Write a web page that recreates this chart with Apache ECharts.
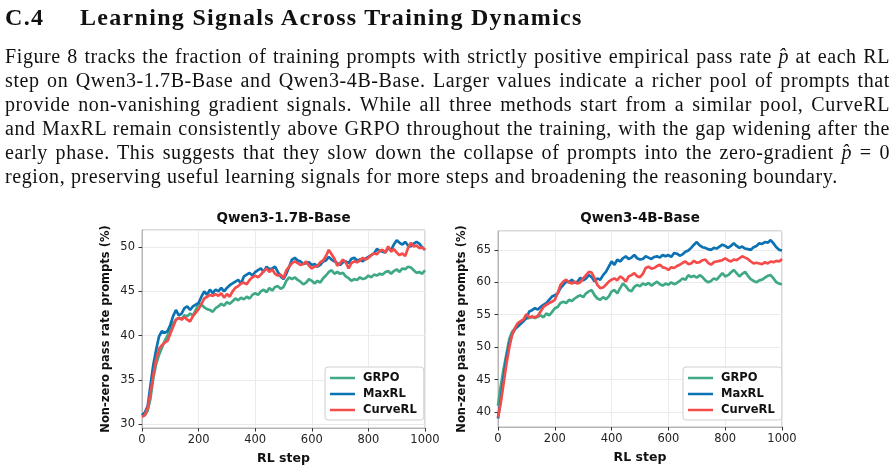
<!DOCTYPE html>
<html>
<head>
<meta charset="utf-8">
<script src="https://cdn.jsdelivr.net/npm/echarts@6/dist/echarts.min.js"></script>
<style>
  body { margin: 0; width: 896px; height: 473px; background: #fff; position: relative; overflow: hidden; color: #111; font-family: 'Liberation Serif', serif; }
  #chart { position: absolute; left: 0; top: 0; width: 896px; height: 473px; }
  .h { position: absolute; top: 2px; font-weight: bold; font-size: 24px; line-height: 30px; letter-spacing: 1.3px; white-space: nowrap; }
  .ln { position: absolute; left: 5px; width: 885px; font-size: 20px; letter-spacing: 0.6px; line-height: 24px; text-align: justify; text-align-last: justify; white-space: nowrap; }
  .last { text-align-last: left; }
</style>
</head>
<body>
<div id="chart"></div>
<div class="h" style="left:5px">C.4</div>
<div class="h" style="left:80px">Learning Signals Across Training Dynamics</div>
<div class="ln" style="top:44px">Figure 8 tracks the fraction of training prompts with strictly positive empirical pass rate <i>p&#770;</i> at each RL</div>
<div class="ln" style="top:68px">step on Qwen3-1.7B-Base and Qwen3-4B-Base. Larger values indicate a richer pool of prompts that</div>
<div class="ln" style="top:92px">provide non-vanishing gradient signals. While all three methods start from a similar pool, CurveRL</div>
<div class="ln" style="top:116px">and MaxRL remain consistently above GRPO throughout the training, with the gap widening after the</div>
<div class="ln" style="top:140px">early phase. This suggests that they slow down the collapse of prompts into the zero-gradient <i>p&#770;</i> = 0</div>
<div class="ln last" style="top:164px">region, preserving useful learning signals for more steps and broadening the reasoning boundary.</div>
<script>
// RL steps, every 10
const steps = [];
for (let s = 0; s <= 1000; s += 10) steps.push(s);

const names = ['GRPO', 'MaxRL', 'CurveRL'];
const colors = ['#3fa985', '#0b72b4', '#f44b4b'];
const titles = ['Qwen3-1.7B-Base', 'Qwen3-4B-Base'];

// Qwen3-1.7B-Base
const grpo17 = [
  31.0, 31.0, 31.5, 32.9, 35.2, 36.8, 37.8, 38.6, 39.4, 40.0,
  40.9, 41.4, 41.8, 42.0, 41.9, 42.3, 42.2, 42.5, 42.3, 42.9,
  43.6, 43.5, 43.2, 43.0, 42.9, 42.7, 43.1, 43.3, 43.6, 43.4,
  43.8, 43.6, 43.9, 44.2, 44.0, 44.3, 44.1, 44.4, 44.2, 44.6,
  44.8, 44.6, 45.0, 45.2, 44.9, 45.4, 45.1, 45.5, 45.6, 45.3,
  45.5, 46.2, 46.6, 46.4, 46.6, 46.3, 46.1, 45.8, 46.0, 46.4,
  46.2, 45.9, 46.2, 46.0, 46.5, 46.8, 47.2, 47.4, 47.0, 47.2,
  47.0, 47.1, 46.7, 46.5, 46.2, 46.4, 46.3, 46.6, 46.4, 46.5,
  46.8, 46.6, 46.9, 46.8, 47.0, 46.9, 47.2, 47.3, 47.0, 47.3,
  47.5, 47.2, 47.6, 47.5, 47.8, 47.7, 47.4, 47.1, 47.2, 47.0,
  47.4
];
const maxrl17 = [
  31.0, 31.3, 32.0, 34.4, 36.7, 38.4, 39.9, 40.5, 40.3, 40.5,
  41.2, 42.2, 42.9, 42.3, 42.5, 43.1, 43.3, 42.9, 43.3, 43.5,
  43.7, 44.4, 45.0, 44.6, 45.2, 44.8, 45.2, 45.0, 45.4, 45.0,
  45.4, 45.7, 45.9, 46.1, 46.3, 45.9, 46.7, 46.9, 47.1, 46.8,
  47.2, 47.4, 47.6, 47.2, 47.8, 47.5, 47.6, 47.8, 47.2, 46.7,
  46.4, 47.0, 47.8, 48.6, 48.8, 48.5, 48.4, 48.1, 48.2, 48.3,
  48.0, 48.1, 47.8, 48.0, 48.4, 48.5, 48.9, 48.6, 48.4, 48.2,
  48.0, 48.3, 48.4, 48.2, 48.7, 48.8, 48.5, 48.6, 48.4, 48.7,
  48.9, 49.1, 49.3, 49.8, 49.6, 49.5, 49.4, 49.9, 49.7, 50.3,
  50.8, 50.5, 50.3, 50.6, 50.2, 50.1, 50.4, 50.6, 50.4, 50.0,
  49.7
];
const curve17 = [
  30.8, 31.0, 31.8, 33.5, 35.5, 37.3, 38.5, 38.9, 39.2, 39.4,
  40.2, 41.0, 41.8, 42.0, 41.8, 42.1, 41.8, 41.6, 42.2, 42.6,
  43.0, 43.6, 44.2, 44.4, 44.6, 44.5, 44.7, 44.5, 44.8, 44.3,
  44.7, 44.4, 45.0, 45.4, 45.6, 45.9, 46.0, 45.8, 46.3, 46.6,
  46.8, 46.6, 46.9, 47.3, 47.6, 47.2, 47.5, 47.0, 46.8, 46.9,
  46.5, 47.4, 47.8, 48.2, 48.4, 48.2, 48.0, 48.1, 48.4, 47.9,
  47.6, 47.8, 47.9, 48.3, 48.5, 49.0, 49.7, 49.2, 48.7, 47.9,
  48.2, 48.6, 48.3, 47.6, 48.2, 48.4, 48.3, 48.5, 48.8, 48.6,
  48.8, 49.1, 49.3, 49.2, 49.6, 49.7, 49.4, 50.1, 49.5, 49.8,
  49.4, 49.1, 49.3, 49.0, 49.9, 50.5, 50.1, 50.2, 49.9, 50.0,
  49.7
];

// Qwen3-4B-Base
const grpo4 = [
  41.0, 44.1, 46.7, 49.0, 51.3, 52.4, 52.9, 53.7, 53.9, 54.2,
  54.4, 54.5, 54.7, 54.5, 54.7, 54.9, 54.6, 55.2, 54.9, 55.4,
  56.0, 56.2, 56.8, 57.0, 56.8, 57.3, 57.1, 57.5, 57.8, 58.0,
  57.7, 58.3, 58.6, 58.8, 58.0, 57.5, 57.3, 57.7, 57.4, 57.8,
  58.6, 58.8, 58.3, 59.1, 59.8, 59.4, 58.8, 58.6, 59.3, 59.6,
  59.4, 59.8, 59.6, 59.9, 59.5, 59.8, 60.1, 59.7, 59.5, 59.8,
  59.6, 60.0, 59.7, 59.9, 60.2, 60.6, 60.4, 61.1, 60.8, 61.0,
  60.7, 61.1, 60.8, 60.3, 60.0, 60.2, 60.6, 60.4, 60.9, 61.4,
  60.9, 61.1, 61.5, 61.9, 61.4, 60.9, 61.3, 61.6, 61.0, 60.5,
  60.2, 60.0, 60.3, 60.4, 60.7, 61.0, 61.1, 60.6, 60.0, 59.8,
  59.7
];
const maxrl4 = [
  39.0, 42.0, 45.5, 48.5, 50.6, 52.0, 52.8, 53.2, 53.6, 54.0,
  54.5, 55.5, 55.7, 56.0, 55.8, 56.2, 56.5, 56.8, 57.3, 57.8,
  58.0, 58.3, 59.1, 59.6, 60.1, 60.0, 60.4, 59.9, 60.1, 60.7,
  60.3, 60.6, 61.1, 60.8, 60.1, 60.6, 60.4, 61.1, 61.6, 62.4,
  63.2, 62.7, 63.5, 63.2, 63.7, 64.0, 63.6, 63.8, 64.2, 63.7,
  63.5, 63.6, 64.0, 63.8, 63.6, 63.9, 64.0, 63.8, 64.2, 64.0,
  64.2, 63.9, 64.5, 64.4, 64.1, 64.3, 64.7, 64.9, 65.3, 65.8,
  66.2, 65.7, 65.4, 65.3, 65.1, 65.0, 65.3, 65.2, 65.5, 65.8,
  65.6, 65.3, 65.6, 66.0, 65.6, 65.3, 65.5, 65.2, 65.1, 65.0,
  65.4, 65.6, 66.0, 65.9, 66.2, 66.1, 66.5, 66.0, 65.4, 65.0,
  64.9
];
const curve4 = [
  39.2, 41.5, 44.5, 47.5, 50.0, 52.0, 53.0, 53.7, 54.0, 54.3,
  55.1, 54.6, 54.7, 54.6, 54.8, 55.5, 56.2, 56.5, 56.8, 57.0,
  57.3, 58.3, 59.6, 60.1, 60.4, 60.0, 59.8, 60.1, 59.8, 60.0,
  60.6, 61.1, 61.6, 61.5, 60.6, 59.6, 59.1, 59.2, 59.6, 60.1,
  60.4, 60.6, 60.3, 60.9, 60.6, 60.1, 60.9, 61.1, 61.4, 60.9,
  60.8, 61.3, 62.2, 62.4, 62.1, 62.2, 62.5, 62.7, 62.3, 62.2,
  61.9, 62.3, 62.2, 62.5, 62.7, 63.0, 63.2, 62.8, 62.9, 63.3,
  63.0, 63.1, 63.4, 63.5, 63.0, 62.7, 63.1, 63.2, 63.3, 63.4,
  63.7, 63.4, 63.2, 63.5, 63.4, 63.7, 64.0, 63.8, 63.6, 63.2,
  62.9, 63.0, 62.9, 62.8, 63.1, 62.9, 63.2, 63.1, 63.3, 63.2,
  63.6
];

const panels = [
  { data: [grpo17, maxrl17, curve17], yMin: 29.55, yMax: 51.95 },
  { data: [grpo4, maxrl4, curve4], yMin: 37.7, yMax: 67.9 }
];

const font = 'DejaVu Sans';
const grids = [
  { left: 142, top: 230, width: 283, height: 198 },
  { left: 498, top: 231, width: 284, height: 196 }
];

const chart = echarts.init(document.getElementById('chart'), null, { renderer: 'canvas' });

const toPairs = vals => vals.map((v, i) => [steps[i], v]);

let xAxis = [], yAxis = [], series = [], legend = [], graphic = [];
panels.forEach((p, k) => {
  xAxis.push({
    type: 'value', gridIndex: k, min: 0, max: 1000, interval: 200,
    name: 'RL step', nameLocation: 'middle', nameGap: 24,
    nameTextStyle: { fontFamily: font, fontWeight: 'bold', fontSize: 12.5, color: '#111' },
    axisLine: { lineStyle: { color: '#b5b5b5' } },
    axisTick: { show: true, length: 3.5, lineStyle: { color: '#333' } },
    axisLabel: { fontFamily: font, fontSize: 11.5, color: '#222', margin: 6,
      formatter: v => String(v) },
    splitLine: { show: true, lineStyle: { color: '#ebebeb' } }
  });
  yAxis.push({
    type: 'value', gridIndex: k, min: p.yMin, max: p.yMax, splitNumber: 5,
    name: 'Non-zero pass rate prompts (%)', nameLocation: 'middle', nameGap: 30,
    nameTextStyle: { fontFamily: font, fontWeight: 'bold', fontSize: 11.5, color: '#111' },
    axisLine: { show: true, lineStyle: { color: '#b5b5b5' } },
    axisTick: { show: true, length: 3.5, lineStyle: { color: '#333' } },
    axisLabel: { fontFamily: font, fontSize: 11.5, color: '#222', margin: 7,
      showMinLabel: false, showMaxLabel: false },
    splitLine: { show: true, lineStyle: { color: '#ebebeb' } }
  });
  p.data.forEach((vals, j) => {
    series.push({
      name: names[j], type: 'line', xAxisIndex: k, yAxisIndex: k,
      data: toPairs(vals), showSymbol: false, symbol: 'none',
      lineStyle: { color: colors[j], width: 2.7 }, itemStyle: { color: colors[j] },
      animation: false
    });
  });
  legend.push({
    show: true, orient: 'vertical', left: k === 0 ? 325 : 683, top: 367,
    data: names, icon: 'rect', itemWidth: 25, itemHeight: 2.5, itemGap: 4,
    padding: [5, 7, 4, 5], borderColor: '#cfcfcf', borderWidth: 1, borderRadius: 3,
    backgroundColor: '#fff',
    textStyle: { fontFamily: font, fontWeight: 'bold', fontSize: 11.5, color: '#111', padding: [0, 0, 0, 3] }
  });
  graphic.push({
    type: 'text', x: grids[k].left + grids[k].width / 2, y: 218,
    style: { text: titles[k], font: 'bold 13.5px "DejaVu Sans"', fill: '#111',
      textAlign: 'center', textVerticalAlign: 'middle' }
  });
});

chart.setOption({
  backgroundColor: 'transparent',
  animation: false,
  grid: grids.map(g => Object.assign({ show: true, borderColor: '#b5b5b5', borderWidth: 1, backgroundColor: 'transparent' }, g)),
  xAxis: xAxis,
  yAxis: yAxis,
  legend: legend,
  graphic: graphic,
  series: series
});
</script>
</body>
</html>
